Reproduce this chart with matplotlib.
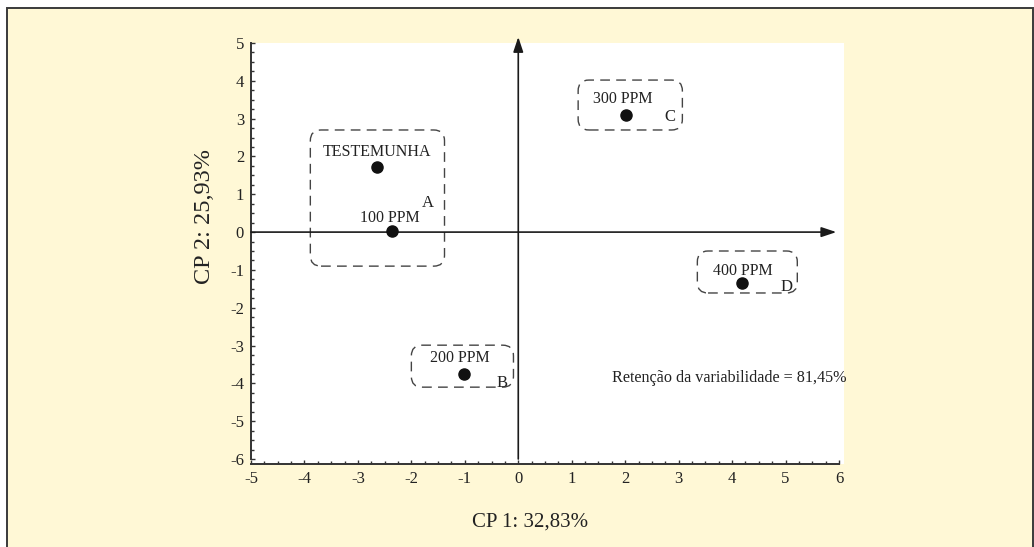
import matplotlib
matplotlib.use('Agg')
import matplotlib.pyplot as plt
from matplotlib.patches import FancyBboxPatch, Rectangle
from matplotlib.ticker import MultipleLocator

## scores on the first two principal components
treatments = ['TESTEMUNHA', '100 PPM', '200 PPM', '300 PPM', '400 PPM']
cp1 = [-2.64, -2.36, -1.01, 2.02, 4.19]
cp2 = [1.72, 0.03, -3.76, 3.10, -1.35]

## where each treatment name is written
label_x = [-2.65, -2.41, -1.09, 1.96, 4.21]
label_y = [2.12, 0.37, -3.33, 3.52, -1.03]

## groups: letter, letter position and the dashed box around it (x0, x1, y0, y1)
groups = ['A', 'B', 'C', 'D']
group_x = [-1.70, -0.30, 2.84, 5.01]
group_y = [0.77, -4.00, 3.04, -1.45]
group_box = [(-3.89, -1.38, -0.90, 2.70),
             (-2.00, -0.09, -4.10, -2.99),
             (1.12, 3.07, 2.70, 4.02),
             (3.35, 5.22, -1.61, -0.50)]

var_cp1 = '32,83%'
var_cp2 = '25,93%'
retention = 'Retenção da variabilidade = 81,45%'

plt.rcParams['font.family'] = ['Liberation Serif', 'DejaVu Serif']
plt.rcParams['axes.unicode_minus'] = False

W, H = 1034, 547
fig = plt.figure(figsize=(W / 100, H / 100), dpi=100, facecolor='white')

## cream panel with a thin frame
fig.patches.append(Rectangle((7 / W, -0.02), (1033 - 7) / W, 1 - 8 / H + 0.02,
                             transform=fig.transFigure, facecolor='#fff8d6',
                             edgecolor='#3a3a3a', linewidth=1.4, zorder=-10))

ax = fig.add_axes([251 / W, 1 - 464 / H, (844 - 251) / W, (464 - 43) / H])
ax.set_facecolor('white')
ax.set_xlim(-5, 6.0935)
ax.set_ylim(-6.132, 5)

for side in ['top', 'right']:
    ax.spines[side].set_visible(False)
ax.spines['left'].set_bounds(-6, 5)
ax.spines['bottom'].set_bounds(-5, 6)
for side in ['left', 'bottom']:
    ax.spines[side].set_color('#333333')
    ax.spines[side].set_linewidth(1.4)

ax.set_xticks(range(-5, 7))
ax.set_yticks(range(-6, 6))
ax.xaxis.set_minor_locator(MultipleLocator(0.25))
ax.yaxis.set_minor_locator(MultipleLocator(0.25))
ax.tick_params(which='both', direction='in', color='#333333', width=1, labelsize=12,
               labelcolor='#222222')
ax.tick_params(which='major', length=3)
ax.tick_params(which='minor', length=2.5)
ax.tick_params(axis='y', pad=5)
ax.tick_params(axis='x', pad=5)

## axes through the origin with arrow heads
arrow = dict(arrowstyle='-|>,head_length=0.45,head_width=0.15', lw=1.2,
             color='#1a1a1a', mutation_scale=20, shrinkA=0, shrinkB=0)
ax.annotate('', xy=(5.95, 0), xytext=(-5, 0), arrowprops=arrow, annotation_clip=False)
ax.annotate('', xy=(0, 5.16), xytext=(0, -6), arrowprops=arrow, annotation_clip=False)

ax.plot(cp1, cp2, 'o', color='#111111', markersize=8, zorder=5)

for name, lx, ly in zip(treatments, label_x, label_y):
    ax.text(lx, ly, name, ha='center', va='center', fontsize=11.5, color='#222222')

## rounding radius in x units, stretched in y so the corners stay round
fig.canvas.draw()
bb = ax.get_window_extent()
px_x = bb.width / (ax.get_xlim()[1] - ax.get_xlim()[0])
px_y = bb.height / (ax.get_ylim()[1] - ax.get_ylim()[0])
aspect = px_x / px_y

for g, gx, gy, (x0, x1, y0, y1) in zip(groups, group_x, group_y, group_box):
    ax.text(gx, gy, g, ha='center', va='center', fontsize=12, color='#222222')
    box = FancyBboxPatch((x0, y0), x1 - x0, y1 - y0,
                         boxstyle='round,pad=0,rounding_size=0.2',
                         mutation_aspect=aspect, facecolor='none',
                         edgecolor='#444444', linewidth=1.0, linestyle=(0, (7, 4.5)))
    ax.add_patch(box)

ax.text(1.76, -3.86, retention, ha='left', va='center', fontsize=11.6,
        color='#222222', clip_on=False)

fig.text(530 / W, 1 - 522 / H, 'CP 1: ' + var_cp1, ha='center', va='center',
         fontsize=15, color='#222222')
fig.text(205 / W, 1 - 216 / H, 'CP 2: ' + var_cp2, ha='center', va='center',
         rotation=90, fontsize=17.5, color='#222222')

fig.savefig('out.png', dpi=100, facecolor=fig.get_facecolor())
